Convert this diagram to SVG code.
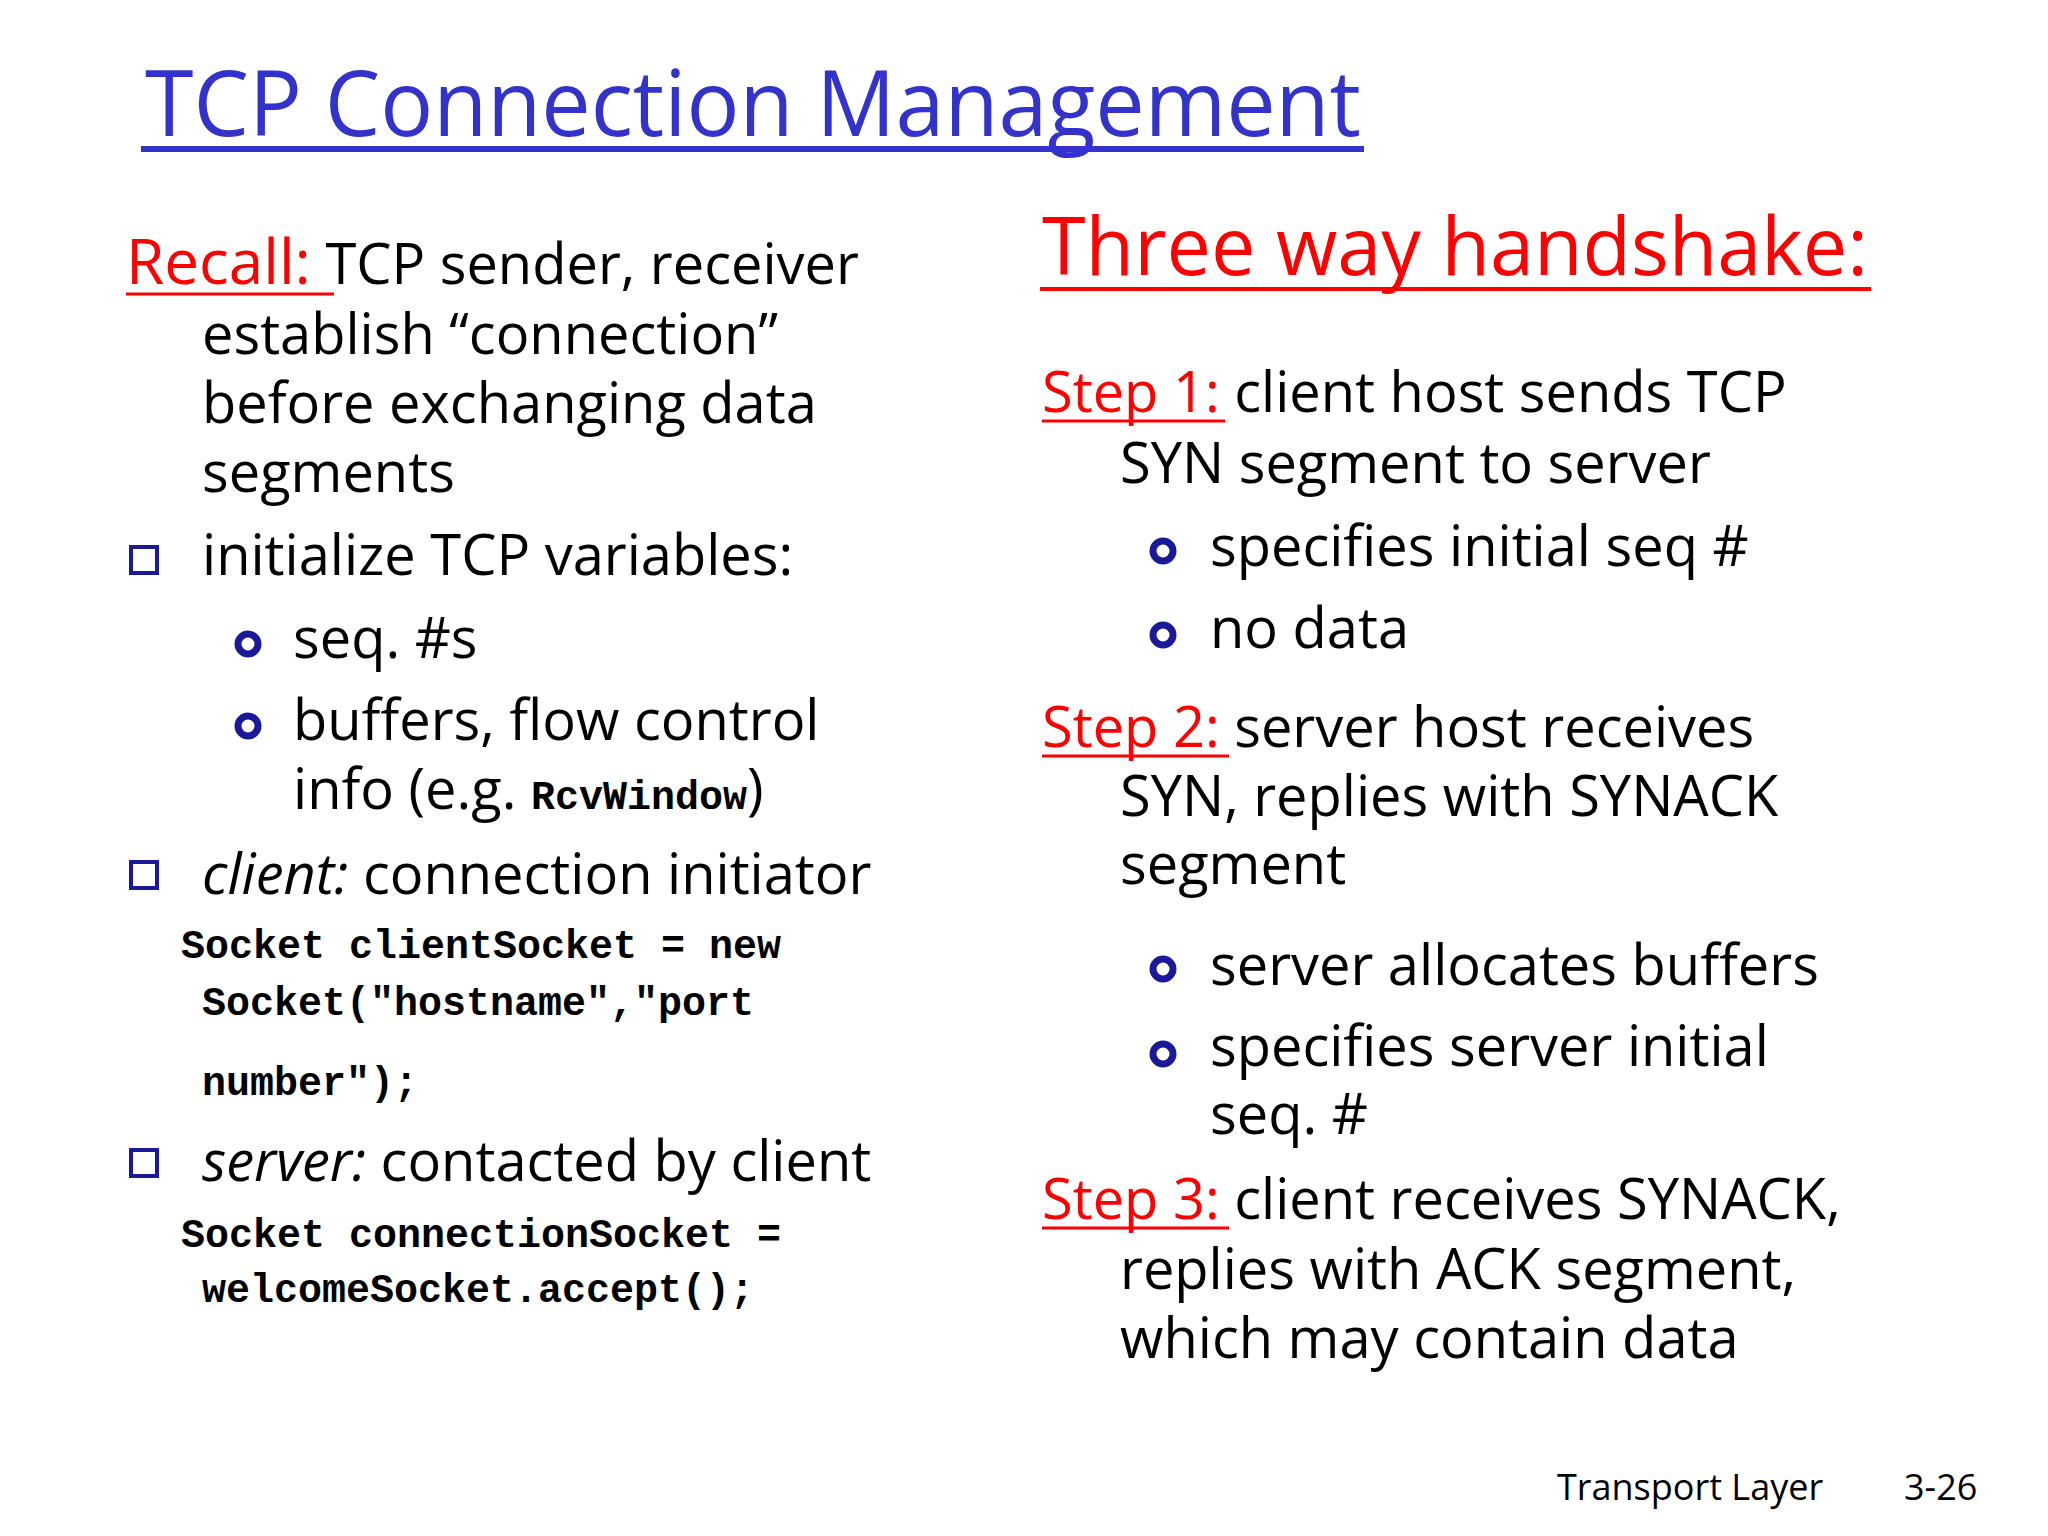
<svg xmlns="http://www.w3.org/2000/svg" width="2048" height="1536" viewBox="0 0 2048 1536">
<style>
.t{font-family:"Open Sans","DejaVu Sans",sans-serif;font-size:56px;fill:#000}
.r{fill:#ff0000}
.m{font-family:"Liberation Mono",monospace;font-weight:bold;font-size:40px;fill:#000}
.sq{fill:#fff;stroke:#1a1a99;stroke-width:4}
.ci{fill:#fff;stroke:#1a1a99;stroke-width:7}
.ul{stroke:#ff0000;stroke-width:3}
.f{font-family:"Open Sans","DejaVu Sans",sans-serif;font-size:36px;fill:#000}
</style>
<rect width="2048" height="1536" fill="#fff"/>
<g id="title">
<text x="145" y="136" font-family="Open Sans,DejaVu Sans,sans-serif" font-size="92" fill="#3333cc" textLength="1216" lengthAdjust="spacingAndGlyphs">TCP Connection Management</text>
<line x1="141" y1="149" x2="1364" y2="149" stroke="#3333cc" stroke-width="6"/>
</g>
<g id="left">
<text class="t" x="126" y="284"><tspan class="r" font-size="62">Recall:</tspan> TCP sender, receiver</text>
<line class="ul" x1="126" y1="294" x2="334" y2="294"/>
<text class="t" x="202" y="354">establish “connection”</text>
<text class="t" x="202" y="423">before exchanging data</text>
<text class="t" x="202" y="492">segments</text>
<rect class="sq" x="131" y="547" width="26" height="26"/>
<text class="t" x="202" y="575">initialize TCP variables:</text>
<circle class="ci" cx="248" cy="644" r="10"/>
<text class="t" x="293" y="658">seq. #s</text>
<circle class="ci" cx="248" cy="726" r="10"/>
<text class="t" x="293" y="740">buffers, flow control</text>
<text class="t" x="293" y="809">info (e.g. <tspan class="m" font-size="46">RcvWindow</tspan>)</text>
<rect class="sq" x="131" y="862" width="26" height="26"/>
<text class="t" x="202" y="894"><tspan font-style="italic">client:</tspan> connection initiator</text>
<text class="m" x="181" y="958">Socket clientSocket = new</text>
<text class="m" x="202" y="1015">Socket("hostname","port</text>
<text class="m" x="202" y="1095">number");</text>
<rect class="sq" x="131" y="1150" width="26" height="26"/>
<text class="t" x="202" y="1181"><tspan font-style="italic">server:</tspan> contacted by client</text>
<text class="m" x="181" y="1247">Socket connectionSocket =</text>
<text class="m" x="202" y="1302">welcomeSocket.accept();</text>
</g>
<g id="right">
<text x="1042" y="275" font-family="Open Sans,DejaVu Sans,sans-serif" font-size="80" fill="#ff0000" textLength="826" lengthAdjust="spacingAndGlyphs">Three way handshake:</text>
<line x1="1040" y1="289" x2="1871" y2="289" stroke="#ff0000" stroke-width="4"/>
<text class="t" x="1042" y="412"><tspan class="r">Step 1:</tspan> client host sends TCP</text>
<line class="ul" x1="1042" y1="421" x2="1225" y2="421"/>
<text class="t" x="1120" y="483">SYN segment to server</text>
<circle class="ci" cx="1163" cy="551" r="10"/>
<text class="t" x="1210" y="566">specifies initial seq #</text>
<circle class="ci" cx="1163" cy="635" r="10"/>
<text class="t" x="1210" y="648">no data</text>
<text class="t" x="1042" y="747"><tspan class="r">Step 2:</tspan> server host receives</text>
<line class="ul" x1="1042" y1="756" x2="1229" y2="756"/>
<text class="t" x="1120" y="816">SYN, replies with SYNACK</text>
<text class="t" x="1120" y="884">segment</text>
<circle class="ci" cx="1163" cy="969" r="10"/>
<text class="t" x="1210" y="985">server allocates buffers</text>
<circle class="ci" cx="1163" cy="1054" r="10"/>
<text class="t" x="1210" y="1066">specifies server initial</text>
<text class="t" x="1210" y="1134">seq. #</text>
<text class="t" x="1042" y="1219"><tspan class="r">Step 3:</tspan> client receives SYNACK,</text>
<line class="ul" x1="1042" y1="1228" x2="1229" y2="1228"/>
<text class="t" x="1120" y="1289">replies with ACK segment,</text>
<text class="t" x="1120" y="1358">which may contain data</text>
</g>
<g id="footer">
<text class="f" x="1557" y="1500">Transport Layer</text>
<text class="f" x="1904" y="1500">3-26</text>
</g>
</svg>
